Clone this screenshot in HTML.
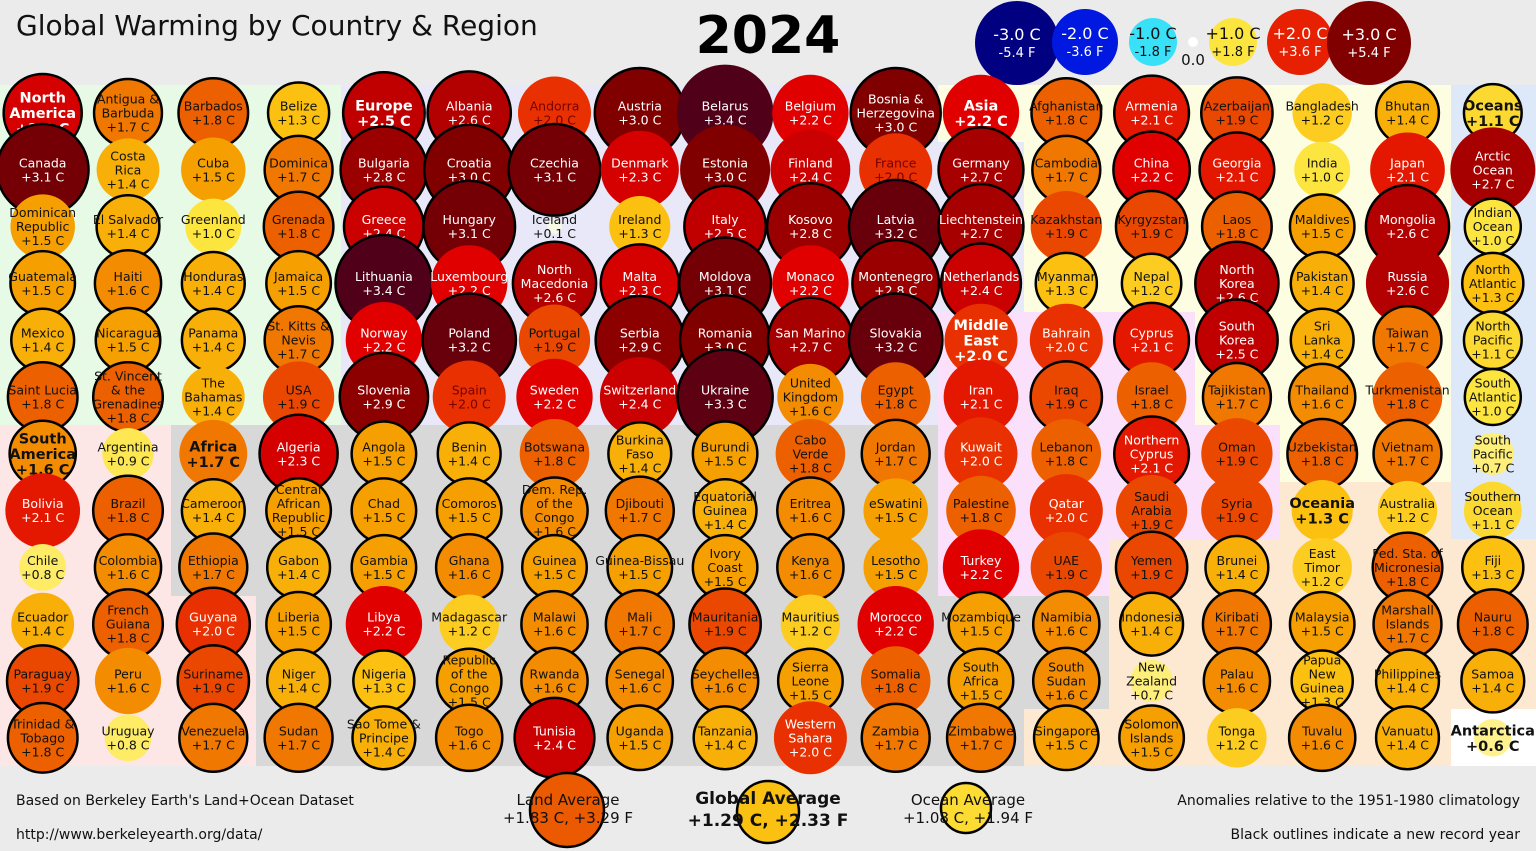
<!DOCTYPE html>
<html><head><meta charset="utf-8"><style>
html,body{margin:0;padding:0;background:#ebebeb;}
svg{display:block;font-family:"DejaVu Sans","Liberation Sans",sans-serif;}
</style></head><body>
<svg id="s" width="1536" height="851" viewBox="0 0 1536 851" xmlns="http://www.w3.org/2000/svg">
<rect width="1536" height="851" fill="#ebebeb"/>
<rect x="0" y="85" width="341" height="340" fill="#e6fae6"/>
<rect x="341" y="85" width="597" height="340" fill="#e8e8f8"/>
<rect x="938" y="142" width="86" height="170" fill="#e8e8f8"/>
<rect x="938" y="85" width="86" height="57" fill="#fdfde2"/>
<rect x="1024" y="85" width="427" height="397" fill="#fdfde2"/>
<rect x="938" y="312" width="257" height="284" fill="#fbe0fb"/>
<rect x="1195" y="425" width="85" height="114" fill="#fbe0fb"/>
<rect x="171" y="425" width="767" height="341" fill="#d8d8d8"/>
<rect x="938" y="596" width="171" height="170" fill="#d8d8d8"/>
<rect x="0" y="425" width="171" height="341" fill="#fde6e6"/>
<rect x="171" y="596" width="85" height="170" fill="#fde6e6"/>
<rect x="1280" y="482" width="171" height="284" fill="#fde8d2"/>
<rect x="1109" y="539" width="171" height="227" fill="#fde8d2"/>
<rect x="1024" y="709" width="85" height="57" fill="#fde8d2"/>
<rect x="1451" y="85" width="85" height="454" fill="#dde8f8"/>
<rect x="1451" y="539" width="85" height="170" fill="#fde8d2"/>
<rect x="1451" y="709" width="85" height="57" fill="#ffffff"/>
<text x="16" y="35" font-size="28" fill="#111">Global Warming by Country &amp; Region</text>
<text x="768" y="53" font-size="52" font-weight="bold" text-anchor="middle" fill="#000">2024</text>
<g id="leg"></g>
<g id="cells"></g>
<g id="bot"></g>
<text x="16" y="805" font-size="14" fill="#111">Based on Berkeley Earth's Land+Ocean Dataset</text>
<text x="16" y="839" font-size="14" fill="#111">http://www.berkeleyearth.org/data/</text>
<text x="1520" y="805" font-size="14" text-anchor="end" fill="#111">Anomalies relative to the 1951-1980 climatology</text>
<text x="1520" y="839" font-size="14" text-anchor="end" fill="#111">Black outlines indicate a new record year</text>
</svg>
<script>
var stops=[[0,[248,248,248]],[0.5,[255,244,160]],[1.0,[253,229,64]],[1.3,[251,192,16]],[1.5,[245,160,0]],[1.7,[240,120,0]],[1.8,[236,96,0]],[2.0,[232,48,0]],[2.2,[224,0,0]],[2.5,[192,0,0]],[3.0,[128,0,0]],[3.4,[80,0,24]]];
function col(t){t=Math.abs(t);if(t>=3.4)return'rgb(80,0,24)';for(var i=1;i<stops.length;i++){if(t<=stops[i][0]){var a=stops[i-1],b=stops[i],f=(t-a[0])/(b[0]-a[0]);var c=a[1].map(function(v,k){return Math.round(v+(b[1][k]-v)*f)});return'rgb('+c+')';}}}
function rad(t){return t<1?5+23*t:28+8.5*(t-1);}
var NS='http://www.w3.org/2000/svg';
function el(n,a,p){var e=document.createElementNS(NS,n);for(var k in a)e.setAttribute(k,a[k]);p.appendChild(e);return e;}
var rows=[
"North|America:2.3:B,Antigua &|Barbuda:1.7,Barbados:1.8,Belize:1.3,Europe:2.5:B,Albania:2.6,Andorra:2.0:ND,Austria:3.0,Belarus:3.4:N,Belgium:2.2:N,Bosnia &|Herzegovina:3.0,Asia:2.2:BN,Afghanistan:1.8,Armenia:2.1,Azerbaijan:1.9,Bangladesh:1.2:N,Bhutan:1.4,Oceans:1.1:B",
"Canada:3.1,Costa|Rica:1.4:N,Cuba:1.5:N,Dominica:1.7,Bulgaria:2.8,Croatia:3.0,Czechia:3.1,Denmark:2.3:N,Estonia:3.0:N,Finland:2.4:N,France:2.0:ND,Germany:2.7,Cambodia:1.7,China:2.2,Georgia:2.1,India:1.0:N,Japan:2.1:N,Arctic|Ocean:2.7:N",
"Dominican|Republic:1.5:N,El Salvador:1.4,Greenland:1.0:N,Grenada:1.8,Greece:2.4,Hungary:3.1,Iceland:0.1:N,Ireland:1.3:N,Italy:2.5,Kosovo:2.8,Latvia:3.2,Liechtenstein:2.7,Kazakhstan:1.9:N,Kyrgyzstan:1.9,Laos:1.8,Maldives:1.5,Mongolia:2.6,Indian|Ocean:1.0",
"Guatemala:1.5,Haiti:1.6,Honduras:1.4,Jamaica:1.5,Lithuania:3.4,Luxembourg:2.2:N,North|Macedonia:2.6,Malta:2.3,Moldova:3.1,Monaco:2.2:N,Montenegro:2.8,Netherlands:2.4,Myanmar:1.3,Nepal:1.2,North|Korea:2.6,Pakistan:1.4,Russia:2.6:N,North|Atlantic:1.3",
"Mexico:1.4,Nicaragua:1.5,Panama:1.4,St. Kitts &|Nevis:1.7,Norway:2.2:N,Poland:3.2,Portugal:1.9:N,Serbia:2.9,Romania:3.0,San Marino:2.7,Slovakia:3.2,Middle|East:2.0:BN,Bahrain:2.0:N,Cyprus:2.1,South|Korea:2.5,Sri|Lanka:1.4,Taiwan:1.7,North|Pacific:1.1",
"Saint Lucia:1.8,St. Vincent|& the|Grenadines:1.8,The|Bahamas:1.4:N,USA:1.9:N,Slovenia:2.9,Spain:2.0:ND,Sweden:2.2:N,Switzerland:2.4:N,Ukraine:3.3,United|Kingdom:1.6:N,Egypt:1.8:N,Iran:2.1:N,Iraq:1.9,Israel:1.8:N,Tajikistan:1.7,Thailand:1.6,Turkmenistan:1.8:N,South|Atlantic:1.0",
"South|America:1.6:B,Argentina:0.9:N,Africa:1.7:BN,Algeria:2.3,Angola:1.5,Benin:1.4,Botswana:1.8:N,Burkina|Faso:1.4,Burundi:1.5,Cabo|Verde:1.8:N,Jordan:1.7,Kuwait:2.0:N,Lebanon:1.8:N,Northern|Cyprus:2.1,Oman:1.9:N,Uzbekistan:1.8,Vietnam:1.7,South|Pacific:0.7:N",
"Bolivia:2.1:N,Brazil:1.8,Cameroon:1.4,Central|African|Republic:1.5,Chad:1.5,Comoros:1.5,Dem. Rep.|of the|Congo:1.6,Djibouti:1.7,Equatorial|Guinea:1.4,Eritrea:1.6,eSwatini:1.5:N,Palestine:1.8:N,Qatar:2.0:N,Saudi|Arabia:1.9:N,Syria:1.9:N,Oceania:1.3:BN,Australia:1.2:N,Southern|Ocean:1.1:N",
"Chile:0.8:N,Colombia:1.6,Ethiopia:1.7,Gabon:1.4,Gambia:1.5,Ghana:1.6,Guinea:1.5,Guinea-Bissau:1.5,Ivory|Coast:1.5,Kenya:1.6,Lesotho:1.5:N,Turkey:2.2:N,UAE:1.9:N,Yemen:1.9,Brunei:1.4,East|Timor:1.2:N,Fed. Sta. of|Micronesia:1.8,Fiji:1.3",
"Ecuador:1.4:N,French|Guiana:1.8,Guyana:2.0,Liberia:1.5,Libya:2.2:N,Madagascar:1.2:N,Malawi:1.6,Mali:1.7,Mauritania:1.9,Mauritius:1.2:N,Morocco:2.2:N,Mozambique:1.5,Namibia:1.6,Indonesia:1.4,Kiribati:1.7,Malaysia:1.5,Marshall|Islands:1.7,Nauru:1.8",
"Paraguay:1.9,Peru:1.6:N,Suriname:1.9,Niger:1.4,Nigeria:1.3,Republic|of the|Congo:1.5,Rwanda:1.6,Senegal:1.6,Seychelles:1.6,Sierra|Leone:1.5,Somalia:1.8:N,South|Africa:1.5,South|Sudan:1.6,New|Zealand:0.7:N,Palau:1.6,Papua|New|Guinea:1.3,Philippines:1.4,Samoa:1.4",
"Trinidad &|Tobago:1.8,Uruguay:0.8:N,Venezuela:1.7,Sudan:1.7,Sao Tome &|Principe:1.4,Togo:1.6,Tunisia:2.4,Uganda:1.5,Tanzania:1.4,Western|Sahara:2.0:N,Zambia:1.7,Zimbabwe:1.7,Singapore:1.5,Solomon|Islands:1.5,Tonga:1.2:N,Tuvalu:1.6,Vanuatu:1.4,Antarctica:0.6:BN"];
var g=document.getElementById('cells');
rows.forEach(function(r,ri){
  r.split(',').forEach(function(c,ci){
    var p=c.split(':'),nm=p[0].split('|'),t=parseFloat(p[1]),fl=p[2]||'';
    var cx=42.7+ci*85.3,cy=113+ri*56.8,bold=fl.indexOf('B')>=0;
    var a={cx:cx,cy:cy,r:rad(t),fill:col(t)};
    if(fl.indexOf('N')<0){a.stroke='#000';a['stroke-width']=2.5;}
    el('circle',a,g);
    var lines=nm.concat(['+'+t.toFixed(1)+' C']);
    var lh=bold?15.5:14,fs=bold?14.5:12.5;
    var tc=t>=1.95?'#fff':'#111';
    if(fl.indexOf('D')>=0)tc='#700';
    lines.forEach(function(L,i){
      var y=cy+(i-(lines.length-1)/2)*lh+fs*0.36;
      var tx=el('text',{x:cx,y:y,'font-size':fs,'text-anchor':'middle',fill:tc},g);
      if(bold)tx.setAttribute('font-weight','bold');
      tx.textContent=L;
    });
  });
});
var lg=document.getElementById('leg');
[[1017,43,42,'#000080','-3.0 C','-5.4 F','#fff'],[1085,42,33,'#0018e0','-2.0 C','-3.6 F','#fff'],[1153,42,24,'#38e0f8','-1.0 C','-1.8 F','#111'],[1233,42,24,'#fde540','+1.0 C','+1.8 F','#111'],[1300,42,33,'#e62000','+2.0 C','+3.6 F','#fff'],[1369,43,42,'#800000','+3.0 C','+5.4 F','#fff']].forEach(function(d){
  el('circle',{cx:d[0],cy:d[1],r:d[2],fill:d[3]},lg);
  var a=el('text',{x:d[0],y:d[1]-3,'font-size':16,'text-anchor':'middle',fill:d[6]},lg);a.textContent=d[4];
  var b=el('text',{x:d[0],y:d[1]+14,'font-size':13,'text-anchor':'middle',fill:d[6]},lg);b.textContent=d[5];
});
el('circle',{cx:1193,cy:42,r:5,fill:'#fff'},lg);
var z=el('text',{x:1193,y:65,'font-size':15,'text-anchor':'middle',fill:'#111'},lg);z.textContent='0.0';
var bt=document.getElementById('bot');
el('circle',{cx:567,cy:810,r:37,fill:col(1.83),stroke:'#000','stroke-width':2.5},bt);
el('circle',{cx:768,cy:812,r:31,fill:col(1.29),stroke:'#000','stroke-width':2.5},bt);
el('circle',{cx:966,cy:808,r:25,fill:col(1.08),stroke:'#000','stroke-width':2.5},bt);
[[568,805,'Land Average',15,0],[568,823,'+1.83 C, +3.29 F',15,0],[768,804,'Global Average',17,1],[768,826,'+1.29 C, +2.33 F',17,1],[968,805,'Ocean Average',15,0],[968,823,'+1.08 C, +1.94 F',15,0]].forEach(function(d){
  var t=el('text',{x:d[0],y:d[1],'font-size':d[3],'text-anchor':'middle',fill:'#111'},bt);
  if(d[4])t.setAttribute('font-weight','bold');t.textContent=d[2];
});
</script>
</body></html>
